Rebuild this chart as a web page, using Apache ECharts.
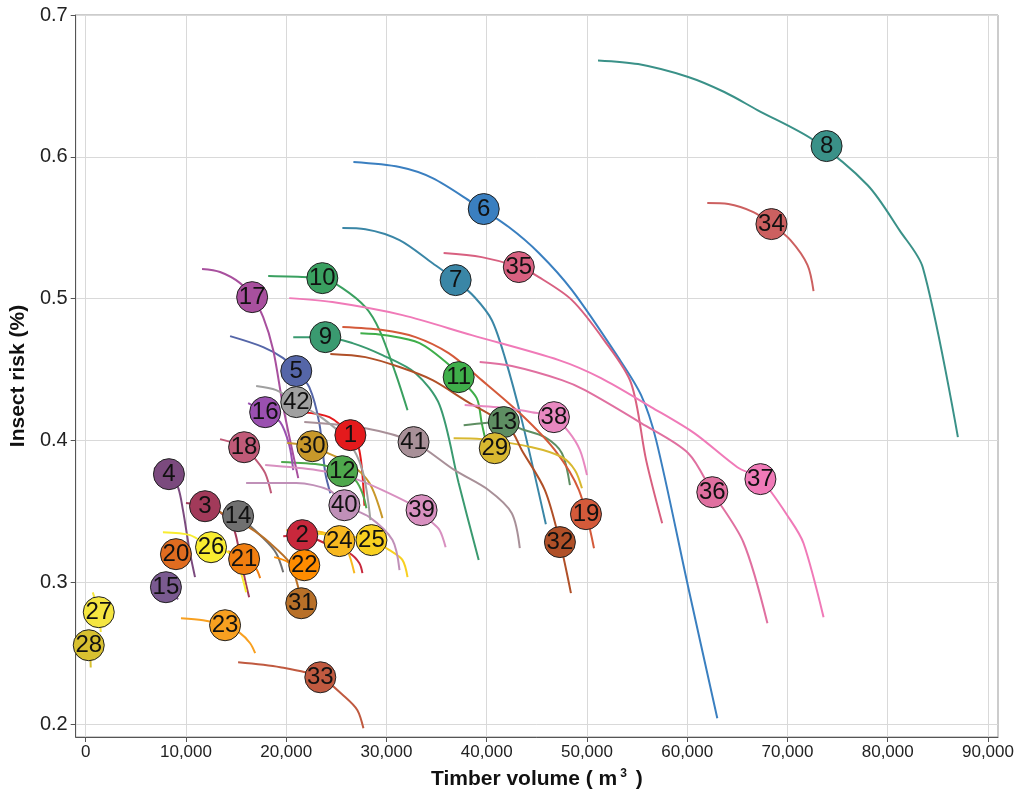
<!DOCTYPE html>
<html>
<head>
<meta charset="utf-8">
<script src="https://cdn.jsdelivr.net/npm/echarts@6/dist/echarts.min.js"></script>
<style>html,body{margin:0;padding:0;background:#fff}#c{width:1024px;height:804px}</style>
</head>
<body>
<div id="c"></div>
<script>
// ---- data (timber volume m3, insect risk) ----
const curve1 = [[21600,0.420],[24300,0.4165],[26400,0.4038],[27300,0.393],[27800,0.354]];
const curve2 = [[19700,0.3326],[21600,0.3333],[23900,0.3276],[26300,0.3206],[27300,0.3135],[27600,0.3065]];
const curve3 = [[10000,0.3559],[11900,0.3537],[13400,0.3495],[14700,0.3389],[15300,0.3227],[15900,0.3016],[16300,0.2896]];
const curve4 = [[6800,0.3805],[8300,0.3763],[9200,0.3671],[9700,0.3509],[10400,0.3206],[10900,0.3037]];
const curve5 = [[14400,0.4736],[17700,0.4659],[19700,0.4581],[21000,0.449],[22300,0.4377],[23300,0.4123],[23900,0.377],[24400,0.3629]];
const curve6 = [[26700,0.5963],[31300,0.5928],[34600,0.585],[38500,0.568],[42200,0.5505],[45200,0.5322],[48500,0.506],[53100,0.4588],[55400,0.432],[56900,0.4003],[60100,0.2966],[63000,0.2042]];
const curve7 = [[25600,0.5498],[27900,0.549],[31300,0.5413],[34600,0.525],[36900,0.5131],[38800,0.501],[40500,0.485],[41800,0.4588],[43500,0.4144],[45900,0.341]];
const curve8 = [[51100,0.668],[55100,0.6654],[60100,0.6563],[63700,0.6457],[67000,0.633],[72600,0.6118],[78000,0.580],[81200,0.548],[83500,0.522],[87000,0.4024]];
const curve9 = [[20700,0.4729],[23900,0.4729],[26600,0.4687],[29600,0.4602],[32900,0.4475],[35300,0.425],[37200,0.37],[39200,0.3157]];
const curve10 = [[18200,0.516],[22300,0.5152],[23600,0.5145],[25600,0.5075],[27900,0.4941],[29300,0.4779],[30900,0.4475],[32100,0.4214]];
const curve11 = [[27400,0.4757],[29900,0.4743],[33300,0.4687],[36500,0.4518],[37200,0.4447],[39000,0.4299],[39500,0.4123],[40100,0.3932]];
const curve12 = [[19500,0.3848],[23600,0.3827],[25600,0.3784],[26900,0.3721],[27600,0.3629],[28000,0.3523]];
const curve13 = [[37700,0.4108],[41700,0.413],[43500,0.408],[45800,0.4024],[47500,0.3911],[48300,0.3685]];
const curve14 = [[13900,0.3495],[15200,0.3467],[17700,0.3312],[19000,0.3206],[19700,0.3072]];
const curve15 = [[7700,0.302],[8500,0.295],[9200,0.288]];
const curve16 = [[16200,0.4264],[17900,0.42],[19400,0.413],[20300,0.3968],[20700,0.3791]];
const curve17 = [[11600,0.5209],[13400,0.5188],[15400,0.511],[16600,0.5011],[17700,0.487],[18700,0.4638],[19700,0.4236],[21200,0.3735]];
const curve18 = [[13400,0.401],[15800,0.3953],[17000,0.3862],[17900,0.377],[18500,0.3629]];
const curve19 = [[25600,0.48],[29600,0.4779],[32900,0.4729],[36200,0.4616],[39500,0.4426],[43500,0.418],[46800,0.3932],[49200,0.365],[50700,0.3241]];
const curve20 = [[8200,0.322],[9000,0.3199],[9600,0.316]];
const curve21 = [[14200,0.322],[15800,0.3164],[16900,0.3107],[17400,0.303]];
const curve22 = [[18800,0.3178],[20200,0.3142],[21100,0.306]];
const curve23 = [[9500,0.2748],[11700,0.2733],[13900,0.2698],[15400,0.2642],[16400,0.2571],[16900,0.2501]];
const curve24 = [[20000,0.3368],[23600,0.3354],[25300,0.3291],[26100,0.3227],[26800,0.3065]];
const curve25 = [[22600,0.3347],[26900,0.3319],[28500,0.3298],[30300,0.3227],[31600,0.3157],[32100,0.3037]];
const curve26 = [[7700,0.3354],[10400,0.3333],[12500,0.3248],[14200,0.3213],[15200,0.3121],[15700,0.3016],[16000,0.2931]];
const curve27 = [[700,0.293],[1300,0.279],[1500,0.265]];
const curve28 = [[200,0.265],[400,0.2557],[500,0.24]];
const curve29 = [[36700,0.4017],[39500,0.401],[44500,0.3953],[47500,0.3883],[48800,0.3791],[49500,0.3664]];
const curve30 = [[20100,0.3982],[22600,0.396],[23900,0.3918],[26300,0.384],[28300,0.37],[29600,0.3453]];
const curve31 = [[13000,0.3509],[16400,0.3382],[18400,0.3276],[20400,0.3135],[21000,0.3016],[21500,0.2875]];
const curve32 = [[24400,0.461],[27900,0.4588],[31300,0.4518],[34600,0.4426],[37800,0.4285],[42200,0.4094],[43500,0.3932],[45800,0.365],[47300,0.3284],[48400,0.2924]];
const curve33 = [[15200,0.2437],[19400,0.2402],[23400,0.2331],[25900,0.219],[27100,0.2099],[27700,0.1972]];
const curve34 = [[62000,0.5674],[64100,0.5667],[66600,0.561],[68400,0.5526],[70300,0.5413],[72000,0.5237],[72600,0.5054]];
const curve35 = [[35700,0.5322],[39500,0.5293],[43200,0.5223],[45200,0.5152],[48500,0.499],[51700,0.4708],[54400,0.4405],[55900,0.3862],[57500,0.3417]];
const curve36 = [[39300,0.4553],[42500,0.4525],[47500,0.4426],[49800,0.4355],[55400,0.4123],[60100,0.3911],[62500,0.3636],[65600,0.3283],[68000,0.2712]];
const curve37 = [[20300,0.5004],[24600,0.4976],[31600,0.4884],[38500,0.4743],[47200,0.4567],[51400,0.444],[56400,0.4236],[60700,0.4052],[65000,0.3812],[67300,0.3728],[70300,0.3439],[71600,0.3276],[73600,0.2755]];
const curve38 = [[37800,0.425],[41800,0.4229],[44500,0.42],[46700,0.4165],[48200,0.4059],[49300,0.3932],[50000,0.3756]];
const curve39 = [[17900,0.3827],[23100,0.3791],[26400,0.3742],[29600,0.365],[33500,0.3509],[34300,0.3439],[35300,0.3368],[35900,0.3248]];
const curve40 = [[16000,0.37],[21000,0.37],[24300,0.365],[25800,0.3544],[28300,0.346],[30600,0.3298],[31300,0.3086]];
const curve41 = [[21800,0.413],[27900,0.4087],[32700,0.3989],[36800,0.3791],[40200,0.365],[42500,0.3488],[43300,0.3241]];
const curve42 = [[17000,0.4384],[19000,0.4355],[21000,0.4271],[23600,0.4158],[26100,0.4003],[27600,0.3791],[28400,0.3439]];

const labels = ['1','2','3','4','5','6','7','8','9','10','11','12','13','14','15','16','17','18','19','20','21','22','23','24','25','26','27','28','29','30','31','32','33','34','35','36','37','38','39','40','41','42'];
const markerX = [26400,21600,11900,8300,21000,39700,36900,73900,23900,23600,37200,25600,41700,15200,8000,17900,16600,15800,49900,9000,15800,21800,13900,25300,28500,12500,1300,300,40800,22600,21500,47300,23400,68400,43200,62500,67300,46700,33500,25800,32700,21000];
const markerY = [0.4038,0.3333,0.3537,0.3763,0.449,0.5632,0.5131,0.6076,0.4729,0.5145,0.4447,0.3784,0.413,0.3467,0.2966,0.42,0.5011,0.3953,0.3481,0.3199,0.3164,0.3121,0.2698,0.3291,0.3298,0.3248,0.279,0.2557,0.3946,0.396,0.2853,0.3284,0.2331,0.5526,0.5223,0.3636,0.3728,0.4165,0.3509,0.3544,0.3989,0.4271];
const xTicks = [0,10000,20000,30000,40000,50000,60000,70000,80000,90000];
const yTicks = [0.2,0.3,0.4,0.5,0.6,0.7];

// ---- styles ----
const colors = ['#e41a1c','#c8283c','#a23a5a','#7b4a7e','#5566a8','#3a7fc0','#3a86a6','#3a9188','#3a9a70','#3aa060',
  '#3fae4a','#4ea84c','#5e8e62','#707070','#7a5a90','#9a50b0','#a8509e','#c05a78','#d45a3a','#e06c20',
  '#f07e10','#ff8c00','#f8a020','#f8b820','#f8d020','#f8ec30','#f5e640','#d8c030','#d8b830','#c8982a',
  '#b87028','#b05028','#c05a40','#cc6060','#d86080','#e070a0','#f07ab8','#e888c0','#d890c0','#c090b8',
  '#a89098','#a0a0a0'];

const curves = [curve1,curve2,curve3,curve4,curve5,curve6,curve7,curve8,curve9,curve10,curve11,curve12,curve13,curve14,
  curve15,curve16,curve17,curve18,curve19,curve20,curve21,curve22,curve23,curve24,curve25,curve26,curve27,curve28,
  curve29,curve30,curve31,curve32,curve33,curve34,curve35,curve36,curve37,curve38,curve39,curve40,curve41,curve42];

const FONT = "'Liberation Sans', Arial, Helvetica, sans-serif";

const series = curves.map((c, i) => ({
  type: 'line', data: c, showSymbol: false, symbol: 'none', smooth: 0.3,
  lineStyle: { width: 2, color: colors[i] }, itemStyle: { color: colors[i] },
  silent: true, z: 2
}));
series.push({
  type: 'scatter', z: 5, symbolSize: 31,
  data: markerX.map((x, i) => [x, markerY[i], labels[i]]),
  itemStyle: { color: p => colors[p.dataIndex], borderColor: '#222', borderWidth: 1, opacity: 1 },
  label: { show: true, position: 'inside', formatter: p => p.value[2], fontSize: 24, color: '#111', fontFamily: FONT }
});

const chart = echarts.init(document.getElementById('c'), null, { renderer: 'canvas' });
chart.setOption({
  animation: false,
  backgroundColor: '#fff',
  textStyle: { fontFamily: FONT },
  grid: { left: 72, right: 26, top: 15, bottom: 67, show: true, borderColor: '#999', borderWidth: 1, containLabel: false },
  xAxis: {
    type: 'value', min: -1000, max: 91000,
    name: '{a|Timber volume ( m}{s|3}{a| )}', nameLocation: 'middle', nameGap: 31,
    nameTextStyle: { rich: {
      a: { fontSize: 21, fontWeight: 'bold', color: '#111', fontFamily: FONT },
      s: { fontSize: 12, fontWeight: 'bold', color: '#111', fontFamily: FONT, verticalAlign: 'top', padding: [0, 3, 11, 3] }
    } },
    axisLine: { show: true, onZero: false, lineStyle: { color: '#555', width: 1 } },
    axisTick: { show: true, length: 5, lineStyle: { color: '#555' }, customValues: xTicks },
    axisLabel: { customValues: xTicks, fontSize: 17, color: '#222', margin: 7, fontFamily: FONT,
      formatter: v => Number(v).toLocaleString('en-US') },
    splitLine: { show: true, lineStyle: { color: '#d9d9d9', width: 1 } }
  },
  yAxis: {
    type: 'value', min: 0.191, max: 0.7,
    name: 'Insect risk (%)', nameLocation: 'middle', nameGap: 42,
    nameTextStyle: { fontSize: 21, fontWeight: 'bold', color: '#111', fontFamily: FONT },
    axisLine: { show: true, onZero: false, lineStyle: { color: '#555', width: 1 } },
    axisTick: { show: true, length: 5, lineStyle: { color: '#555' }, customValues: yTicks },
    axisLabel: { customValues: yTicks, fontSize: 20, color: '#222', margin: 8, fontFamily: FONT,
      formatter: v => Number(v).toFixed(1) },
    splitLine: { show: true, lineStyle: { color: '#d9d9d9', width: 1 } }
  },
  series: series
});
</script>
</body>
</html>
